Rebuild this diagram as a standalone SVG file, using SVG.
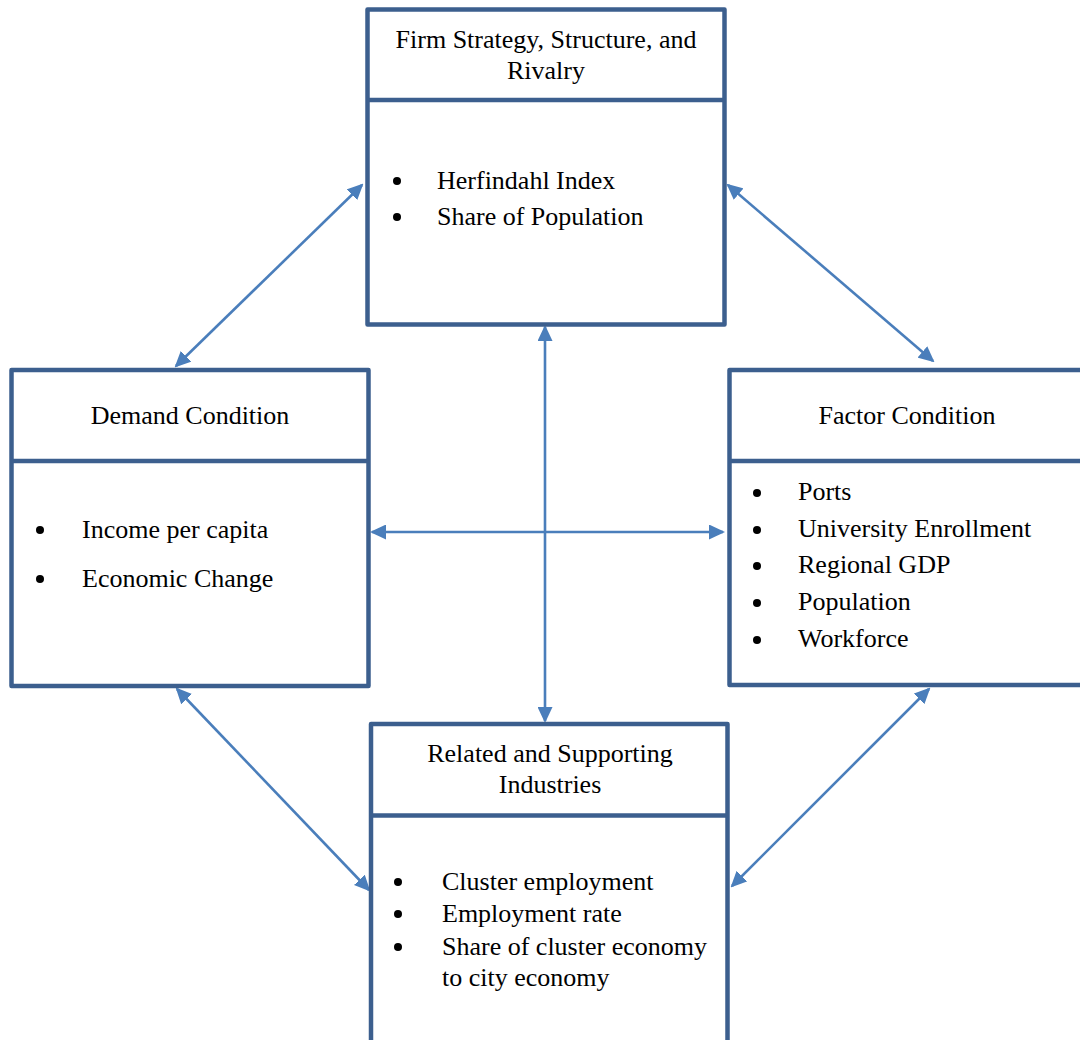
<svg xmlns="http://www.w3.org/2000/svg" width="1080" height="1040" viewBox="0 0 1080 1040">
<style>
.box{fill:#fff;stroke:#3c5f8e;stroke-width:4.5;stroke-linejoin:round}
.div{stroke:#3c5f8e;stroke-width:4.5}
.t{font-family:"Liberation Serif","Times New Roman",serif;font-size:26px;fill:#000}
.c{text-anchor:middle}
.b{fill:#000}
.conn{stroke:#4a7ebb;stroke-width:2.6;fill:none;marker-start:url(#ah);marker-end:url(#ah)}
</style>
<defs>
<marker id="ah" markerUnits="userSpaceOnUse" markerWidth="16" markerHeight="15" refX="14" refY="7.5" orient="auto-start-reverse" viewBox="0 0 16 15">
<path d="M0,0 L16,7.5 L0,15 z" fill="#4a7ebb"/>
</marker>
</defs>
<rect width="1080" height="1040" fill="#fff"/>
<g id="connectors">
<line class="conn" x1="176" y1="366" x2="362" y2="185"/>
<line class="conn" x1="728" y1="185" x2="933" y2="361"/>
<line class="conn" x1="545" y1="327" x2="545" y2="721"/>
<line class="conn" x1="372" y1="532" x2="723" y2="532"/>
<line class="conn" x1="177" y1="689" x2="369" y2="890"/>
<line class="conn" x1="929" y1="689" x2="732" y2="886"/>
</g>
<g id="firm">
<rect class="box" x="367.5" y="9.5" width="357" height="315"/>
<line class="div" x1="367.5" y1="100" x2="724.5" y2="100"/>
<text class="t c" x="546" y="48">Firm Strategy, Structure, and</text>
<text class="t c" x="546" y="79">Rivalry</text>
<circle class="b" cx="397" cy="181" r="4"/>
<text class="t" x="437" y="189">Herfindahl Index</text>
<circle class="b" cx="397" cy="217" r="4"/>
<text class="t" x="437" y="225">Share of Population</text>
</g>
<g id="demand">
<rect class="box" x="11.5" y="370" width="357" height="316"/>
<line class="div" x1="11.5" y1="461" x2="368.5" y2="461"/>
<text class="t c" x="190" y="424">Demand Condition</text>
<circle class="b" cx="40" cy="530" r="4"/>
<text class="t" x="82" y="538">Income per capita</text>
<circle class="b" cx="40" cy="579" r="4"/>
<text class="t" x="82" y="587">Economic Change</text>
</g>
<g id="factor">
<rect class="box" x="729.5" y="370" width="360" height="315"/>
<line class="div" x1="729.5" y1="461" x2="1089" y2="461"/>
<text class="t c" x="907" y="424">Factor Condition</text>
<circle class="b" cx="757" cy="493" r="4"/>
<text class="t" x="798" y="500">Ports</text>
<circle class="b" cx="757" cy="530" r="4"/>
<text class="t" x="798" y="537">University Enrollment</text>
<circle class="b" cx="757" cy="566" r="4"/>
<text class="t" x="798" y="573">Regional GDP</text>
<circle class="b" cx="757" cy="603" r="4"/>
<text class="t" x="798" y="610">Population</text>
<circle class="b" cx="757" cy="640" r="4"/>
<text class="t" x="798" y="647">Workforce</text>
</g>
<g id="related">
<rect class="box" x="371" y="724" width="356.5" height="330"/>
<line class="div" x1="371" y1="815.5" x2="727.5" y2="815.5"/>
<text class="t c" x="550" y="762">Related and Supporting</text>
<text class="t c" x="550" y="793">Industries</text>
<circle class="b" cx="398" cy="882" r="4"/>
<text class="t" x="442" y="890">Cluster employment</text>
<circle class="b" cx="398" cy="914" r="4"/>
<text class="t" x="442" y="922">Employment rate</text>
<circle class="b" cx="398" cy="947" r="4"/>
<text class="t" x="442" y="955">Share of cluster economy</text>
<text class="t" x="442" y="986">to city economy</text>
</g>
</svg>
